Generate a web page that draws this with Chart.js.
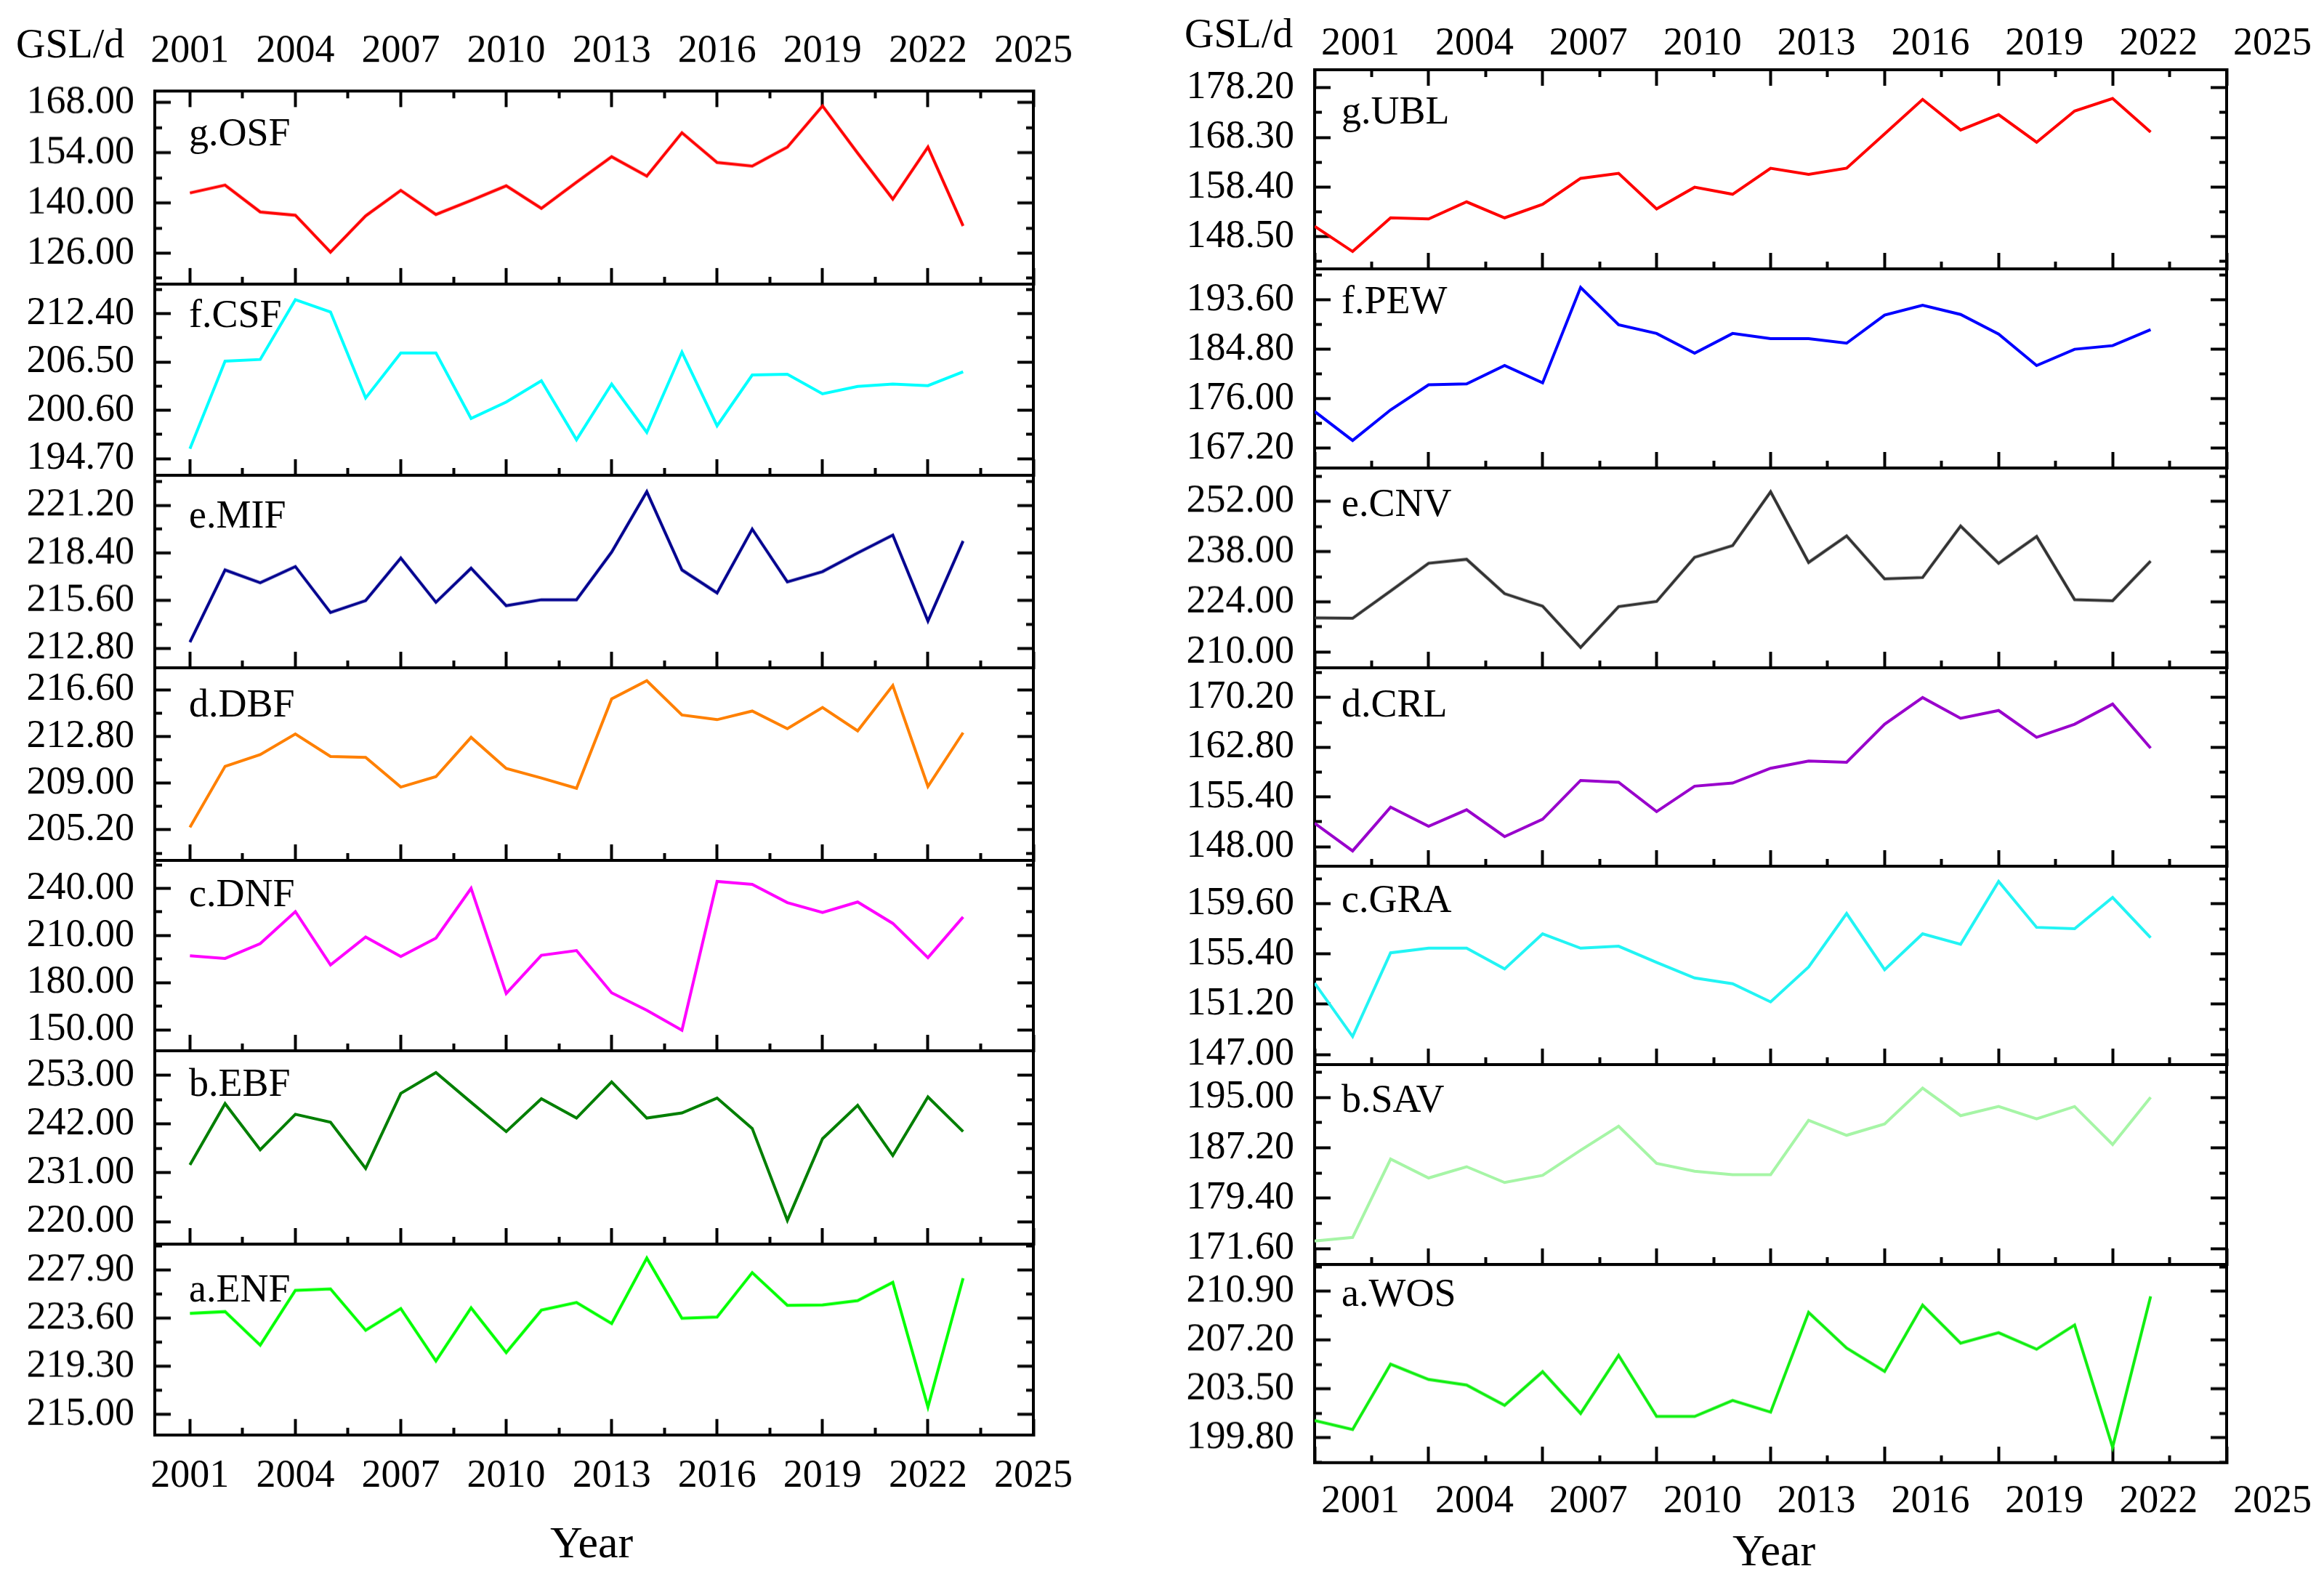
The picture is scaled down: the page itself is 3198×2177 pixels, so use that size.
<!DOCTYPE html>
<html>
<head>
<meta charset="utf-8">
<title>GSL by land cover type</title>
<script src="https://cdn.jsdelivr.net/npm/chart.js@4.4.1/dist/chart.umd.min.js"></script>
<style>
  html, body { margin: 0; padding: 0; background: #fff; }
  #page { position: relative; width: 3198px; height: 2177px; overflow: hidden;
          font-family: "Liberation Serif", "Times New Roman", serif; color: #000; }
  #page canvas { position: absolute; }
  .txt { position: absolute; line-height: 1; white-space: nowrap; }
</style>
</head>
<body>
<div id="page"></div>
<script>
const years = [2001, 2002, 2003, 2004, 2005, 2006, 2007, 2008, 2009, 2010, 2011, 2012,
  2013, 2014, 2015, 2016, 2017, 2018, 2019, 2020, 2021, 2022, 2023];
const yearTicks = [2001, 2004, 2007, 2010, 2013, 2016, 2019, 2022, 2025];

// left column (forest types)
const osf = [142.8, 145.0, 137.5, 136.6, 126.3, 136.4, 143.5, 136.8, 140.7, 144.8, 138.5, 145.8,
  152.9, 147.5, 159.6, 151.3, 150.3, 155.6, 167.1, 153.9, 141.1, 155.6, 133.6];
const osfTicks = [126, 140, 154, 168];
const csf = [195.9, 206.6, 206.8, 214.1, 212.6, 202.1, 207.6, 207.6, 199.6, 201.6, 204.2, 197.0,
  203.8, 197.9, 207.7, 198.7, 204.9, 205.0, 202.6, 203.5, 203.8, 203.6, 205.3];
const csfTicks = [194.7, 200.6, 206.5, 212.4];
const mif = [213.15, 217.4, 216.65, 217.6, 214.9, 215.6, 218.1, 215.5, 217.5, 215.3, 215.65, 215.65,
  218.45, 222.0, 217.4, 216.05, 219.8, 216.7, 217.3, 218.4, 219.45, 214.4, 219.1];
const mifTicks = [212.8, 215.6, 218.4, 221.2];
const dbf = [205.4, 210.37, 211.32, 213.0, 211.17, 211.1, 208.68, 209.53, 212.73, 210.2, 209.42, 208.58,
  215.86, 217.34, 214.55, 214.17, 214.87, 213.43, 215.16, 213.26, 216.95, 208.73, 213.11];
const dbfTicks = [205.2, 209.0, 212.8, 216.6];
const dnf = [197.1, 195.4, 204.8, 225.2, 191.3, 209.0, 196.6, 208.3, 240.0, 173.1, 197.4, 200.4,
  173.5, 162.4, 149.7, 244.4, 242.5, 230.9, 224.6, 231.3, 217.7, 195.9, 221.8];
const dnfTicks = [150, 180, 210, 240];
const ebf = [232.8, 246.6, 236.2, 244.2, 242.4, 232.0, 248.9, 253.6, 246.9, 240.3, 247.7, 243.35,
  251.5, 243.35, 244.5, 247.85, 241.0, 220.3, 238.7, 246.2, 234.9, 248.1, 240.3];
const ebfTicks = [220, 231, 242, 253];
const enf = [224.04, 224.2, 221.2, 226.1, 226.23, 222.53, 224.48, 219.78, 224.54, 220.54, 224.33, 225.02,
  223.14, 228.99, 223.61, 223.72, 227.69, 224.76, 224.8, 225.19, 226.82, 215.66, 227.19];
const enfTicks = [215.0, 219.3, 223.6, 227.9];

// right column (non-forest types)
const ubl = [150.56, 145.55, 152.26, 152.03, 155.44, 152.26, 154.96, 160.13, 161.12, 154.03, 158.36, 156.96,
  162.15, 160.93, 162.15, 168.98, 175.87, 169.77, 172.82, 167.33, 173.55, 176.06, 169.35];
const ublTicks = [148.5, 158.4, 168.3, 178.2];
const pew = [173.72, 168.55, 174.0, 178.46, 178.63, 181.89, 178.8, 195.79, 189.14, 187.6, 184.08, 187.6,
  186.69, 186.69, 185.87, 190.88, 192.63, 190.99, 187.5, 181.89, 184.79, 185.43, 188.27];
const pewTicks = [167.2, 176.0, 184.8, 193.6];
const cnv = [219.54, 219.4, 227.0, 234.75, 235.85, 226.27, 222.8, 211.28, 222.66, 224.1, 236.42, 239.68,
  254.68, 234.98, 242.36, 230.41, 230.78, 245.12, 234.75, 242.22, 224.61, 224.32, 235.34];
const cnvTicks = [210, 224, 238, 252];
const crl = [151.48, 147.36, 153.88, 151.03, 153.49, 149.49, 152.07, 157.86, 157.59, 153.22, 157.0, 157.47,
  159.67, 160.75, 160.56, 166.23, 170.2, 167.11, 168.27, 164.29, 166.23, 169.23, 162.67];
const crlTicks = [148.0, 155.4, 162.8, 170.2];
const gra = [152.97, 148.5, 155.51, 155.9, 155.9, 154.16, 157.1, 155.9, 156.06, 154.71, 153.4, 152.92,
  151.4, 154.32, 158.8, 154.1, 157.1, 156.23, 161.49, 157.64, 157.53, 160.14, 156.77];
const graTicks = [147.0, 151.2, 155.4, 159.6];
const sav = [172.78, 173.34, 185.45, 182.53, 184.27, 181.83, 182.93, 186.82, 190.54, 184.79, 183.58, 183.05,
  183.05, 191.44, 189.13, 190.87, 196.42, 192.17, 193.58, 191.68, 193.58, 187.71, 195.0];
const savTicks = [171.6, 179.4, 187.2, 195.0];
const wos = [201.1, 200.42, 205.37, 204.21, 203.79, 202.25, 204.8, 201.64, 206.04, 201.41, 201.41, 202.62,
  201.74, 209.29, 206.59, 204.82, 209.84, 206.96, 207.75, 206.5, 208.33, 199.08, 210.5];
const wosTicks = [199.8, 203.5, 207.2, 210.9];

const FONT = "'Liberation Serif', 'Times New Roman', serif";

const columns = [
  {
    canvasLeft: 0, canvasRight: 1500, frameLeft: 213, frameRight: 1422,
    edges: [125, 390.6, 654.3, 918.6, 1184, 1446, 1712.3, 1975],
    xMin: 2000, xMax: 2025, labelShift: 0,
    topHeight: 110, topPad: 44, bottomHeight: 100, bottomPad: 46,
    labelLeft: 260, labelTop: [164, 414.6, 690, 950.7, 1211.8, 1472.5, 1755],
    unit: { left: 22, top: 32 }, year: { left: 757, top: 2091 },
    panels: [
      { name: 'g.OSF', data: osf, ticks: osfTicks, min: 117.36, max: 171.25, color: '#ff0000' },
      { name: 'f.CSF', data: csf, ticks: csfTicks, min: 192.66, max: 216.0, color: '#00ffff' },
      { name: 'e.MIF', data: mif, ticks: mifTicks, min: 211.65, max: 222.96, color: '#00008f' },
      { name: 'd.DBF', data: dbf, ticks: dbfTicks, min: 202.71, max: 218.39, color: '#ff8000' },
      { name: 'c.DNF', data: dnf, ticks: dnfTicks, min: 136.6, max: 257.8, color: '#ff00ff' },
      { name: 'b.EBF', data: ebf, ticks: ebfTicks, min: 214.95, max: 258.5, color: '#007f00' },
      { name: 'a.ENF', data: enf, ticks: enfTicks, min: 213.16, max: 230.24, color: '#00ff00' },
    ],
  },
  {
    canvasLeft: 1580, canvasRight: 3198, frameLeft: 1809, frameRight: 3064,
    edges: [96, 370, 644, 918.6, 1192, 1465, 1740, 2012.7],
    xMin: 2001, xMax: 2025, labelShift: 63,
    topHeight: 80, topPad: 25, bottomHeight: 100, bottomPad: 43,
    labelLeft: 1846, labelTop: [134, 395.6, 674, 950.7, 1219, 1494, 1761.7],
    unit: { left: 1630, top: 18 }, year: { left: 2384, top: 2102 },
    panels: [
      { name: 'g.UBL', data: ubl, ticks: ublTicks, min: 142.08, max: 181.78, color: '#ff0000' },
      { name: 'f.PEW', data: pew, ticks: pewTicks, min: 163.65, max: 199.1, color: '#0000ff' },
      { name: 'e.CNV', data: cnv, ticks: cnvTicks, min: 205.6, max: 261.3, color: '#333333' },
      { name: 'd.CRL', data: crl, ticks: crlTicks, min: 145.08, max: 174.63, color: '#9900cc' },
      { name: 'c.GRA', data: gra, ticks: graTicks, min: 146.15, max: 162.76, color: '#22f4f4' },
      { name: 'b.SAV', data: sav, ticks: savTicks, min: 169.16, max: 200.06, color: '#a6f5a6' },
      { name: 'a.WOS', data: wos, ticks: wosTicks, min: 197.91, max: 212.92, color: '#11ee11' },
    ],
  },
];

const page = document.getElementById('page');

function addText(text, left, top, size) {
  const d = document.createElement('div');
  d.className = 'txt';
  d.textContent = text;
  d.style.left = left + 'px';
  d.style.top = top + 'px';
  d.style.fontSize = size + 'px';
  page.appendChild(d);
}

// fixed axis box, no extra layout padding from labels
function fixSize(w, h) {
  return function (scale) {
    if (w !== null) scale.width = w;
    if (h !== null) scale.height = h;
    scale.paddingLeft = 0;
    scale.paddingRight = 0;
    scale.paddingTop = 0;
    scale.paddingBottom = 0;
  };
}

function setTicks(values) {
  return function (scale) {
    scale.ticks = values.map(v => ({ value: v }));
  };
}

// inward tick marks, nothing drawn on the plot area
function marks(len, on) {
  return { drawOnChartArea: false, drawTicks: on, tickLength: -len, tickWidth: 4, tickColor: '#000' };
}

const frame = { display: true, color: '#000', width: 4 };
const noFrame = { display: false };
const tickFont = { family: FONT, size: 54 };

columns.forEach(col => {
  const minorYears = yearTicks.map(v => v + 1.5).filter(v => v < col.xMax);
  const padRight = col.canvasRight - col.frameRight;
  const yWidth = col.frameLeft - col.canvasLeft;

  col.panels.forEach((p, i) => {
    const isTop = i === 0;
    const isBottom = i === col.panels.length - 1;
    const topM = isTop ? 0 : 30;
    const botM = isBottom ? 0 : 30;
    const topH = isTop ? col.topHeight : 0;
    const botH = isBottom ? col.bottomHeight : 0;
    const panelTop = col.edges[i];
    const panelH = col.edges[i + 1] - col.edges[i];

    const step = p.ticks[1] - p.ticks[0];
    const minorY = [p.ticks[0] - step / 2].concat(p.ticks.map(v => v + step / 2))
      .filter(v => v > p.min && v < p.max);

    const canvas = document.createElement('canvas');
    const w = col.canvasRight - col.canvasLeft;
    const h = panelH + topM + botM + topH + botH;
    canvas.width = w;
    canvas.height = h;
    canvas.style.width = w + 'px';
    canvas.style.height = h + 'px';
    canvas.style.left = col.canvasLeft + 'px';
    canvas.style.top = (panelTop - topM - topH) + 'px';
    page.appendChild(canvas);

    const yRange = { type: 'linear', min: p.min, max: p.max };
    const xRange = { type: 'linear', min: col.xMin, max: col.xMax };
    const yearLabels = {
      font: tickFont, color: '#000', autoSkip: false, maxRotation: 0, minRotation: 0,
      labelOffset: col.labelShift, callback: v => String(v),
    };

    new Chart(canvas, {
      type: 'line',
      data: {
        datasets: [{
          label: p.name,
          data: years.map((yr, k) => ({ x: yr, y: p.data[k] })),
          borderColor: p.color,
          borderWidth: 4,
          pointRadius: 0,
          tension: 0,
          fill: false,
          xAxisID: 'x',
          yAxisID: 'y',
        }],
      },
      options: {
        responsive: false,
        maintainAspectRatio: false,
        animation: false,
        events: [],
        layout: { padding: { left: 0, right: padRight, top: topM, bottom: botM } },
        plugins: { legend: { display: false }, tooltip: { enabled: false } },
        scales: {
          y: {
            ...yRange, position: 'left', weight: 1,
            afterBuildTicks: setTicks(p.ticks), afterFit: fixSize(yWidth, null),
            grid: marks(22, true), border: frame,
            ticks: { font: tickFont, color: '#000', padding: 50, autoSkip: false,
                     callback: v => Number(v).toFixed(2) },
          },
          ym: {
            ...yRange, position: 'left', weight: 0,
            afterBuildTicks: setTicks(minorY), afterFit: fixSize(0, null),
            grid: marks(10, true), border: noFrame, ticks: { display: false },
          },
          yr: {
            ...yRange, position: 'right', weight: 1,
            afterBuildTicks: setTicks(p.ticks), afterFit: fixSize(0, null),
            grid: marks(22, true), border: frame, ticks: { display: false },
          },
          yrm: {
            ...yRange, position: 'right', weight: 0,
            afterBuildTicks: setTicks(minorY), afterFit: fixSize(0, null),
            grid: marks(10, true), border: noFrame, ticks: { display: false },
          },
          x: {
            ...xRange, position: 'bottom', weight: 1,
            afterBuildTicks: setTicks(yearTicks), afterFit: fixSize(null, botH),
            grid: marks(22, true), border: frame,
            ticks: { ...yearLabels, display: isBottom, padding: col.bottomPad },
          },
          xm: {
            ...xRange, position: 'bottom', weight: 0,
            afterBuildTicks: setTicks(minorYears), afterFit: fixSize(null, 0),
            grid: marks(10, true), border: noFrame, ticks: { display: false },
          },
          xt: {
            ...xRange, position: 'top', weight: 1,
            afterBuildTicks: setTicks(yearTicks), afterFit: fixSize(null, topH),
            grid: marks(22, isTop), border: frame,
            ticks: { ...yearLabels, display: isTop, padding: col.topPad },
          },
          xtm: {
            ...xRange, position: 'top', weight: 0,
            afterBuildTicks: setTicks(minorYears), afterFit: fixSize(null, 0),
            grid: marks(10, isTop), border: noFrame, ticks: { display: false },
          },
        },
      },
    });

    addText(p.name, col.labelLeft, col.labelTop[i] - 9.5, 54);
  });

  addText('GSL/d', col.unit.left, col.unit.top, 56);
  addText('Year', col.year.left, col.year.top, 62);
});
</script>
</body>
</html>
